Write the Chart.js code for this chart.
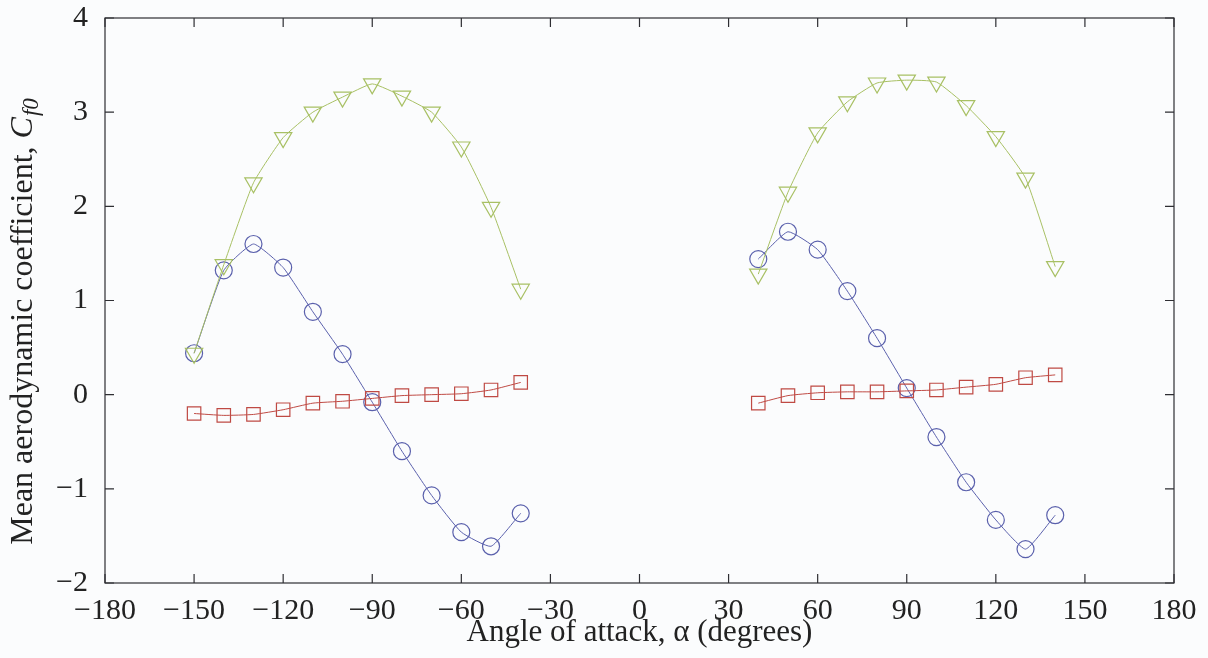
<!DOCTYPE html>
<html>
<head>
<meta charset="utf-8">
<title>Mean aerodynamic coefficient vs angle of attack</title>
<script src="https://cdn.jsdelivr.net/npm/chart.js@4.4.0/dist/chart.umd.min.js"></script>
<style>
    html, body { margin: 0; padding: 0; background: #fbfcfd; }
    #wrap { width: 1208px; height: 658px; position: relative; }
</style>
</head>
<body>
<div id="wrap"><canvas id="coefChart"></canvas></div>
<script>
// Angle of attack (degrees), two measured ranges
const anglesNeg = [-150, -140, -130, -120, -110, -100, -90, -80, -70, -60, -50, -40];
const anglesPos = [40, 50, 60, 70, 80, 90, 100, 110, 120, 130, 140];

// Circles (blue)
const circleNeg = [0.44, 1.32, 1.60, 1.35, 0.88, 0.43, -0.08, -0.60, -1.07, -1.46, -1.61, -1.26];
const circlePos = [1.44, 1.73, 1.54, 1.10, 0.60, 0.07, -0.45, -0.93, -1.33, -1.64, -1.28];

// Squares (red)
const squareNeg = [-0.20, -0.22, -0.21, -0.16, -0.09, -0.07, -0.04, -0.01, 0.00, 0.01, 0.05, 0.13];
const squarePos = [-0.09, -0.01, 0.02, 0.03, 0.03, 0.04, 0.05, 0.08, 0.11, 0.18, 0.21];

// Downward triangles (green)
const triNeg = [0.44, 1.38, 2.25, 2.73, 3.00, 3.16, 3.30, 3.17, 3.00, 2.63, 1.99, 1.12];
const triPos = [1.28, 2.15, 2.78, 3.11, 3.31, 3.34, 3.32, 3.07, 2.74, 2.30, 1.36];

// Axis ticks
const xTicks = [-180, -150, -120, -90, -60, -30, 0, 30, 60, 90, 120, 150, 180];
const yTicks = [-2, -1, 0, 1, 2, 3, 4];

const serif = "'Liberation Serif', 'Times New Roman', serif";
const axisColor = '#2e2e33';
const blue = '#5a60ac';
const red = '#bf4a44';
const green = '#a8c064';

function pts(xs, ys) {
    return xs.map((x, i) => ({ x: x, y: ys[i] }));
}

function series(xs, ys, color, style, radius, rotation) {
    return {
        data: pts(xs, ys),
        borderColor: color,
        borderWidth: 1,
        pointStyle: style,
        pointRadius: radius,
        pointRotation: rotation || 0,
        pointBorderColor: color,
        pointBorderWidth: 1.2,
        pointBackgroundColor: 'rgba(0,0,0,0)',
        tension: 0.15,
        fill: false
    };
}

const minus = v => String(v).replace('-', '\u2212');

// Box frame with inward ticks on all four sides, plus axis titles
const framePlugin = {
    id: 'frame',
    afterDraw(chart) {
        const ctx = chart.ctx;
        const a = chart.chartArea;
        const xs = chart.scales.x;
        const ys = chart.scales.y;
        const len = 9;
        ctx.save();
        ctx.strokeStyle = axisColor;
        ctx.lineWidth = 1.2;
        ctx.strokeRect(a.left, a.top, a.right - a.left, a.bottom - a.top);
        ctx.beginPath();
        xTicks.forEach(v => {
            const px = xs.getPixelForValue(v);
            ctx.moveTo(px, a.bottom); ctx.lineTo(px, a.bottom - len);
            ctx.moveTo(px, a.top); ctx.lineTo(px, a.top + len);
        });
        yTicks.forEach(v => {
            const py = ys.getPixelForValue(v);
            ctx.moveTo(a.left, py); ctx.lineTo(a.left + len, py);
            ctx.moveTo(a.right, py); ctx.lineTo(a.right - len, py);
        });
        ctx.stroke();

        // x title
        ctx.fillStyle = '#222';
        ctx.font = '31px ' + serif;
        ctx.textAlign = 'center';
        ctx.textBaseline = 'alphabetic';
        ctx.fillText('Angle of attack, \u03b1 (degrees)', (a.left + a.right) / 2, 641);

        // y title, rotated, with italic C and subscript f0
        const main = 'Mean aerodynamic coefficient, ';
        ctx.font = '32px ' + serif;
        const w1 = ctx.measureText(main).width;
        ctx.font = 'italic 32px ' + serif;
        const w2 = ctx.measureText('C').width;
        ctx.font = 'italic 23px ' + serif;
        const w3 = ctx.measureText('f0').width;
        const total = w1 + w2 + w3;
        ctx.translate(32, 322);
        ctx.rotate(-Math.PI / 2);
        ctx.textAlign = 'left';
        const x0 = -total / 2;
        ctx.font = '32px ' + serif;
        ctx.fillText(main, x0, 0);
        ctx.font = 'italic 32px ' + serif;
        ctx.fillText('C', x0 + w1, 0);
        ctx.font = 'italic 23px ' + serif;
        ctx.fillText('f0', x0 + w1 + w2 + 1, 6);
        ctx.restore();
    }
};

const ctx = document.getElementById('coefChart').getContext('2d');
new Chart(ctx, {
    type: 'line',
    data: {
        datasets: [
            series(anglesNeg, triNeg, green, 'triangle', 10, 180),
            series(anglesPos, triPos, green, 'triangle', 10, 180),
            series(anglesNeg, squareNeg, red, 'rect', 9.5),
            series(anglesPos, squarePos, red, 'rect', 9.5),
            series(anglesNeg, circleNeg, blue, 'circle', 8.5),
            series(anglesPos, circlePos, blue, 'circle', 8.5)
        ]
    },
    options: {
        responsive: true,
        maintainAspectRatio: false,
        animation: false,
        layout: { padding: { left: 0, right: 34, top: 18, bottom: 0 } },
        plugins: { legend: { display: false }, tooltip: { enabled: false } },
        scales: {
            x: {
                type: 'linear',
                min: -180,
                max: 180,
                grid: { display: false },
                border: { display: false },
                afterBuildTicks: s => { s.ticks = xTicks.map(v => ({ value: v })); },
                afterFit: s => {
                    s.height = 75;
                    s.paddingLeft = 0;
                    s.paddingRight = 0;
                },
                ticks: {
                    color: '#222',
                    font: { family: serif, size: 30 },
                    padding: 2,
                    maxRotation: 0,
                    autoSkip: false,
                    callback: v => minus(v)
                }
            },
            y: {
                min: -2,
                max: 4,
                grid: { display: false },
                border: { display: false },
                afterBuildTicks: s => { s.ticks = yTicks.map(v => ({ value: v })); },
                afterFit: s => {
                    s.width = 105;
                    s.paddingTop = 0;
                    s.paddingBottom = 0;
                },
                ticks: {
                    color: '#222',
                    font: { family: serif, size: 30 },
                    padding: 9,
                    callback: v => minus(v)
                }
            }
        }
    },
    plugins: [framePlugin]
});
</script>
</body>
</html>
